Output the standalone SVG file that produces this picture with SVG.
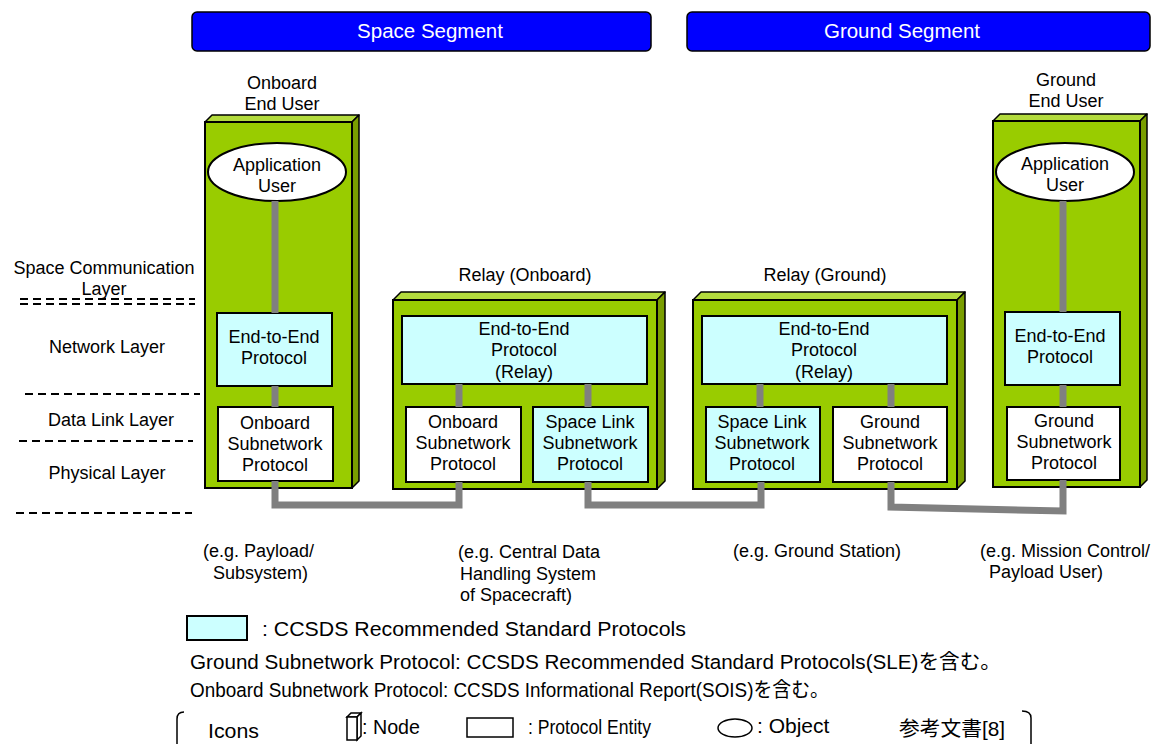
<svg xmlns="http://www.w3.org/2000/svg" width="1157" height="744" viewBox="0 0 1157 744">
  <defs>
    <style>
      text { font-family: "Liberation Sans", Arial, sans-serif; font-size: 18px; fill: #000; }
      .c { text-anchor: middle; }
      .banner { fill: #0000FF; stroke: #000; stroke-width: 1.5; }
      .bannerText { fill: #fff; font-size: 20.5px; text-anchor: middle; }
      .front { fill: #99CC00; stroke: #000; stroke-width: 2; }
      .top { fill: #B3DB3D; stroke: #000; stroke-width: 1.5; stroke-linejoin: round; }
      .side { fill: #7A9E00; stroke: #000; stroke-width: 1.5; stroke-linejoin: round; }
      .ccsds { fill: #CCFFFF; stroke: #000; stroke-width: 2; }
      .plain { fill: #fff; stroke: #000; stroke-width: 2; }
      .obj { fill: #fff; stroke: #000; stroke-width: 2; }
      .link { fill: none; stroke: #808080; stroke-width: 7; stroke-linejoin: miter; }
      .layerLine { stroke: #000; stroke-width: 2; stroke-dasharray: 8 5; }
      .icon { fill: #fff; stroke: #000; stroke-width: 1.5; }
      .bracket { fill: none; stroke: #000; stroke-width: 1.5; }
      .jp { font-family: "Liberation Sans", "Noto Sans CJK JP", sans-serif; font-size: 20.5px; }
    </style>
  </defs>

  <!-- segment banners -->
  <g id="space-segment">
    <rect class="banner" x="192" y="12" width="459" height="39" rx="5"/>
    <text class="bannerText" x="430" y="38">Space Segment</text>
  </g>
  <g id="ground-segment">
    <rect class="banner" x="687" y="12" width="463" height="39" rx="5"/>
    <text class="bannerText" x="902" y="38">Ground Segment</text>
  </g>

  <!-- layer scale on the left -->
  <g id="layers">
    <text class="c" x="104" y="274">Space Communication</text>
    <text class="c" x="104" y="295">Layer</text>
    <line class="layerLine" x1="20" y1="299" x2="195" y2="299"/>
    <line class="layerLine" x1="20" y1="304" x2="195" y2="304"/>
    <text class="c" x="107" y="353">Network Layer</text>
    <line class="layerLine" x1="25" y1="394" x2="200" y2="394"/>
    <text class="c" x="111" y="426">Data Link Layer</text>
    <line class="layerLine" x1="19" y1="441" x2="193" y2="441"/>
    <text class="c" x="107" y="479">Physical Layer</text>
    <line class="layerLine" x1="16" y1="513" x2="192" y2="513"/>
  </g>

  <!-- Onboard End User node -->
  <g id="onboard-end-user">
    <text class="c" x="282" y="89">Onboard</text>
    <text class="c" x="282" y="110">End User</text>
    <polygon class="top" points="205,122 212,115 359,115 352,122"/>
    <polygon class="side" points="352,122 359,115 359,481 352,488"/>
    <rect class="front" x="205" y="122" width="147" height="366"/>
    <ellipse class="obj" cx="277" cy="172" rx="69" ry="29"/>
    <text class="c" x="277" y="171">Application</text>
    <text class="c" x="277" y="192">User</text>
    <rect class="ccsds" x="217" y="313" width="115" height="73"/>
    <text class="c" x="274" y="343">End-to-End</text>
    <text class="c" x="274" y="364">Protocol</text>
    <rect class="plain" x="218" y="407" width="115" height="74"/>
    <text class="c" x="275" y="429">Onboard</text>
    <text class="c" x="275" y="450">Subnetwork</text>
    <text class="c" x="275" y="471">Protocol</text>
  </g>

  <!-- Relay (Onboard) node -->
  <g id="relay-onboard">
    <text class="c" x="525" y="281">Relay (Onboard)</text>
    <polygon class="top" points="393,300 401,292 665,292 657,300"/>
    <polygon class="side" points="657,300 665,292 665,481 657,489"/>
    <rect class="front" x="393" y="300" width="264" height="189"/>
    <rect class="ccsds" x="402" y="316" width="245" height="68"/>
    <text class="c" x="524" y="335">End-to-End</text>
    <text class="c" x="524" y="356">Protocol</text>
    <text class="c" x="524" y="378">(Relay)</text>
    <rect class="plain" x="406" y="407" width="115" height="75"/>
    <text class="c" x="463" y="428">Onboard</text>
    <text class="c" x="463" y="449">Subnetwork</text>
    <text class="c" x="463" y="470">Protocol</text>
    <rect class="ccsds" x="533" y="407" width="115" height="75"/>
    <text class="c" x="590" y="428">Space Link</text>
    <text class="c" x="590" y="449">Subnetwork</text>
    <text class="c" x="590" y="470">Protocol</text>
  </g>

  <!-- Relay (Ground) node -->
  <g id="relay-ground">
    <text class="c" x="825" y="281">Relay (Ground)</text>
    <polygon class="top" points="693,300 701,292 965,292 957,300"/>
    <polygon class="side" points="957,300 965,292 965,481 957,489"/>
    <rect class="front" x="693" y="300" width="264" height="189"/>
    <rect class="ccsds" x="702" y="316" width="245" height="68"/>
    <text class="c" x="824" y="335">End-to-End</text>
    <text class="c" x="824" y="356">Protocol</text>
    <text class="c" x="824" y="378">(Relay)</text>
    <rect class="ccsds" x="706" y="407" width="114" height="75"/>
    <text class="c" x="762" y="428">Space Link</text>
    <text class="c" x="762" y="449">Subnetwork</text>
    <text class="c" x="762" y="470">Protocol</text>
    <rect class="plain" x="833" y="407" width="114" height="75"/>
    <text class="c" x="890" y="428">Ground</text>
    <text class="c" x="890" y="449">Subnetwork</text>
    <text class="c" x="890" y="470">Protocol</text>
  </g>

  <!-- Ground End User node -->
  <g id="ground-end-user">
    <text class="c" x="1066" y="86">Ground</text>
    <text class="c" x="1066" y="107">End User</text>
    <polygon class="top" points="993,121 1000,114 1147,114 1140,121"/>
    <polygon class="side" points="1140,121 1147,114 1147,480 1140,487"/>
    <rect class="front" x="993" y="121" width="147" height="366"/>
    <ellipse class="obj" cx="1065" cy="172" rx="69" ry="29"/>
    <text class="c" x="1065" y="170">Application</text>
    <text class="c" x="1065" y="191">User</text>
    <rect class="ccsds" x="1005" y="312" width="115" height="73"/>
    <text class="c" x="1060" y="342">End-to-End</text>
    <text class="c" x="1060" y="363">Protocol</text>
    <rect class="plain" x="1007" y="407" width="113" height="73"/>
    <text class="c" x="1064" y="427">Ground</text>
    <text class="c" x="1064" y="448">Subnetwork</text>
    <text class="c" x="1064" y="469">Protocol</text>
  </g>

  <!-- protocol connectors -->
  <g id="connectors">
    <line class="link" x1="275" y1="201" x2="275" y2="313"/>
    <line class="link" x1="275" y1="386" x2="275" y2="407"/>
    <line class="link" x1="459" y1="384" x2="459" y2="407"/>
    <line class="link" x1="588" y1="384" x2="588" y2="407"/>
    <line class="link" x1="760" y1="384" x2="760" y2="407"/>
    <line class="link" x1="891" y1="384" x2="891" y2="407"/>
    <line class="link" x1="1063" y1="201" x2="1063" y2="312"/>
    <line class="link" x1="1063" y1="385" x2="1063" y2="407"/>
    <polyline class="link" points="275,481 275,505 459,505 459,482"/>
    <polyline class="link" points="588,482 588,505 761,505 761,482"/>
    <polyline class="link" points="891,482 891,507 1063,511 1063,480"/>
  </g>

  <!-- example systems -->
  <g id="examples">
    <text x="203" y="557">(e.g. Payload/</text>
    <text x="213" y="579">Subsystem)</text>
    <text x="458" y="558">(e.g. Central Data</text>
    <text x="460" y="580">Handling System</text>
    <text x="460" y="601">of Spacecraft)</text>
    <text x="733" y="557">(e.g. Ground Station)</text>
    <text x="980" y="557">(e.g. Mission Control/</text>
    <text x="989" y="578">Payload User)</text>
  </g>

  <!-- legend -->
  <g id="legend">
    <rect class="ccsds" x="187" y="616" width="60" height="24"/>
    <text class="jp" x="262" y="636" textLength="424" lengthAdjust="spacingAndGlyphs">: CCSDS Recommended Standard Protocols</text>
    <text class="jp" x="190" y="669" textLength="811" lengthAdjust="spacingAndGlyphs">Ground Subnetwork Protocol: CCSDS Recommended Standard Protocols(SLE)を含む。</text>
    <text class="jp" x="190" y="697" textLength="639" lengthAdjust="spacingAndGlyphs">Onboard Subnetwork Protocol: CCSDS Informational Report(SOIS)を含む。</text>
    <path class="bracket" d="M184,712 Q177,712 177,719 L177,744"/>
    <text class="jp" x="208" y="738" textLength="51" lengthAdjust="spacingAndGlyphs">Icons</text>
    <polygon class="icon" points="347,717 351,713 361,713 357,717"/>
    <polygon class="icon" points="357,717 361,713 361,736 357,740"/>
    <rect class="icon" x="347" y="717" width="10" height="23"/>
    <text class="jp" x="362" y="734" textLength="58" lengthAdjust="spacingAndGlyphs">: Node</text>
    <rect class="icon" x="467" y="718" width="46" height="19"/>
    <text class="jp" x="528" y="734" textLength="123" lengthAdjust="spacingAndGlyphs">: Protocol Entity</text>
    <ellipse class="icon" cx="735" cy="728" rx="17" ry="9"/>
    <text class="jp" x="757" y="733" style="font-size:21px">: Object</text>
    <text class="jp" x="899" y="736" textLength="106" lengthAdjust="spacingAndGlyphs">参考文書[8]</text>
    <path class="bracket" d="M1022,711 Q1031,711 1031,718 L1031,744"/>
  </g>
</svg>
